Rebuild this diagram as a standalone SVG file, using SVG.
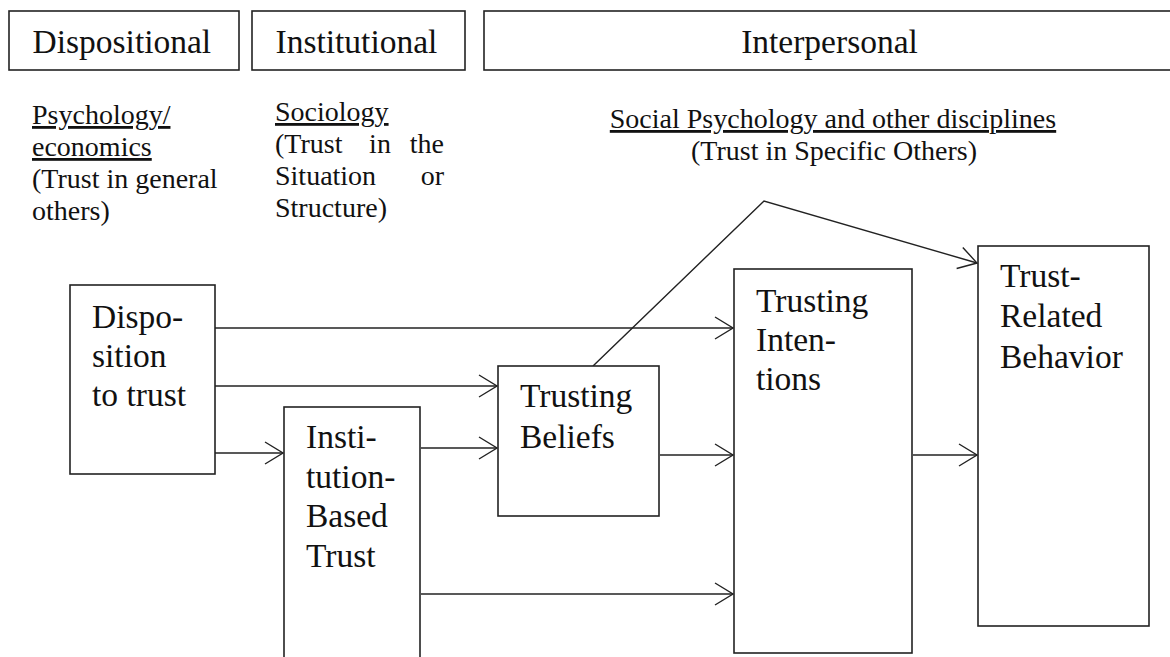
<svg xmlns="http://www.w3.org/2000/svg" width="1170" height="657" viewBox="0 0 1170 657" font-family="'Liberation Serif', 'DejaVu Serif', serif">
<defs>
<style>
text{font-family:"Liberation Serif","DejaVu Serif",serif;fill:#111}
.h{font-size:33.5px}
.s{font-size:28px}
.n{font-size:33.5px}
.u{text-decoration:underline}
.box{fill:#fff;stroke:#222;stroke-width:1.6}
.c{fill:none;stroke:#222;stroke-width:1.4}
</style>
<marker id="ah" markerUnits="userSpaceOnUse" viewBox="-20 -13 22 26" refX="0" refY="0" markerWidth="22" markerHeight="26" orient="auto">
<path d="M-18,-11 L0,0 L-18,11" fill="none" stroke="#222" stroke-width="1.4"/>
</marker>
</defs>
<rect width="1170" height="657" fill="#fff"/>

<g id="header-dispositional">
<rect class="box" x="9" y="11" width="230" height="59"/>
<text class="h" x="32.5" y="53">Dispositional</text>
</g>
<g id="header-institutional">
<rect class="box" x="252" y="11" width="213" height="59"/>
<text class="h" x="275.5" y="53">Institutional</text>
</g>
<g id="header-interpersonal">
<rect class="box" x="484" y="11" width="700" height="59"/>
<text class="h" x="829.5" y="53" text-anchor="middle">Interpersonal</text>
</g>

<g id="label-psychology">
<text class="s u" x="32" y="124">Psychology/</text>
<text class="s u" x="32" y="156">economics</text>
<text class="s" x="32" y="188">(Trust in general</text>
<text class="s" x="32" y="220">others)</text>
</g>
<g id="label-sociology">
<text class="s u" x="275" y="121">Sociology</text>
<text class="s" x="275" y="153">(Trust</text>
<text class="s" x="380" y="153" text-anchor="middle">in</text>
<text class="s" x="444" y="153" text-anchor="end">the</text>
<text class="s" x="275" y="185">Situation</text>
<text class="s" x="444" y="185" text-anchor="end">or</text>
<text class="s" x="275" y="217">Structure)</text>
</g>
<g id="label-social-psychology">
<text class="s u" x="833" y="128" text-anchor="middle">Social Psychology and other disciplines</text>
<text class="s" x="834" y="160" text-anchor="middle">(Trust in Specific Others)</text>
</g>

<g id="connectors">
<line class="c" x1="215" y1="328" x2="733" y2="328" marker-end="url(#ah)"/>
<line class="c" x1="215" y1="386" x2="497" y2="386" marker-end="url(#ah)"/>
<line class="c" x1="215" y1="453" x2="283" y2="453" marker-end="url(#ah)"/>
<line class="c" x1="421" y1="448" x2="497" y2="448" marker-end="url(#ah)"/>
<line class="c" x1="421" y1="594" x2="733" y2="594" marker-end="url(#ah)"/>
<line class="c" x1="660" y1="455" x2="733" y2="455" marker-end="url(#ah)"/>
<line class="c" x1="913" y1="455" x2="977" y2="455" marker-end="url(#ah)"/>
<polyline class="c" points="593,366 764,201 977,263" marker-end="url(#ah)"/>
</g>

<g id="node-disposition">
<rect class="box" x="70" y="285" width="145" height="189"/>
<text class="n" x="92" y="328">Dispo-</text>
<text class="n" x="92" y="367">sition</text>
<text class="n" x="92" y="406">to trust</text>
</g>
<g id="node-institution">
<rect class="box" x="284" y="407" width="136" height="270"/>
<text class="n" x="306" y="448">Insti-</text>
<text class="n" x="306" y="487.5">tution-</text>
<text class="n" x="306" y="527">Based</text>
<text class="n" x="306" y="566.5">Trust</text>
</g>
<g id="node-beliefs">
<rect class="box" x="498" y="366" width="161" height="150"/>
<text class="n" x="520" y="407">Trusting</text>
<text class="n" x="520" y="448">Beliefs</text>
</g>
<g id="node-intentions">
<rect class="box" x="734" y="269" width="178" height="384"/>
<text class="n" x="756" y="312">Trusting</text>
<text class="n" x="756" y="351">Inten-</text>
<text class="n" x="756" y="390">tions</text>
</g>
<g id="node-behavior">
<rect class="box" x="978" y="246" width="171" height="380"/>
<text class="n" x="1000" y="287">Trust-</text>
<text class="n" x="1000" y="327">Related</text>
<text class="n" x="1000" y="368">Behavior</text>
</g>
</svg>
